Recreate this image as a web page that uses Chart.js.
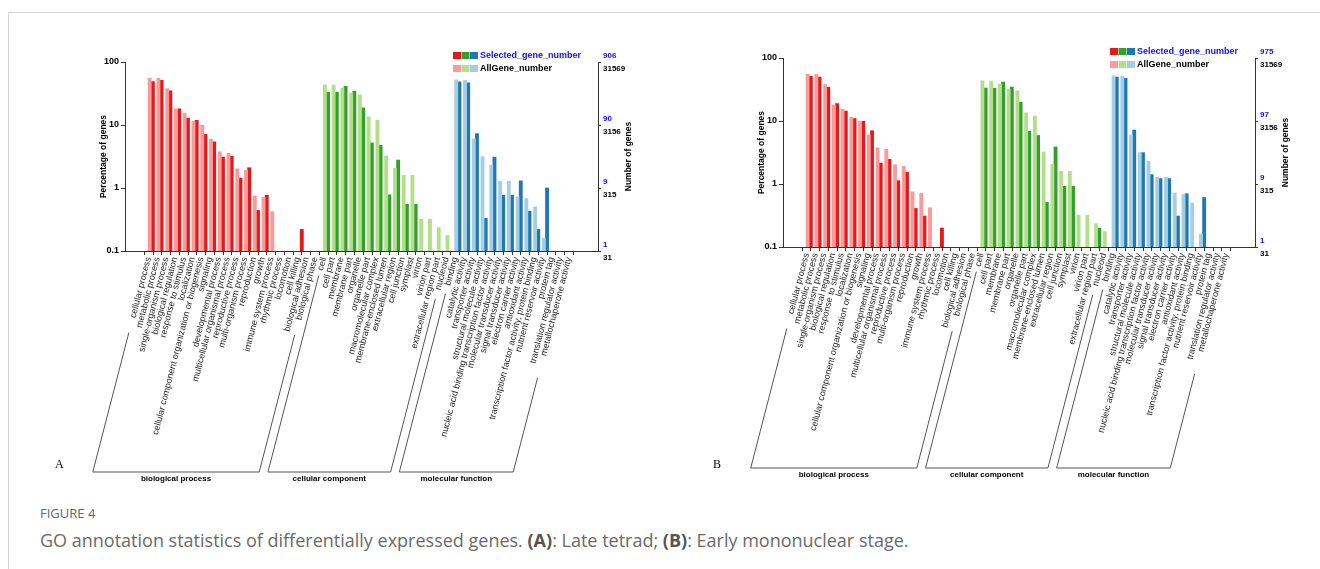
<!DOCTYPE html>
<html>
<head>
<meta charset="utf-8">
<script src="https://cdn.jsdelivr.net/npm/chart.js@4.4.1/dist/chart.umd.min.js"></script>
<style>
    body { margin: 0; width: 1320px; height: 569px; overflow: hidden; background: #fff; position: relative; font-family: 'Open Sans', sans-serif; }
    .frame { position: absolute; left: 8px; top: 12px; width: 1330px; height: 600px; border-top: 1px solid #d4d4d4; border-left: 1px solid #d4d4d4; }
    .panel { position: absolute; top: 0; width: 660px; height: 500px; }
    #figLabel { position: absolute; left: 40px; top: 504px; font-size: 13px; color: #666; }
    #caption { position: absolute; left: 40px; top: 528px; font-size: 18px; color: #6a6a6a; }
    #caption b { color: #555; }
</style>
</head>
<body>
<div class="frame"></div>
<div class="panel" style="left:0"><canvas id="chartA"></canvas></div>
<div class="panel" style="left:660px"><canvas id="chartB"></canvas></div>
<div id="figLabel">FIGURE 4</div>
<div id="caption">GO annotation statistics of differentially expressed genes. <b>(A)</b>: Late tetrad; <b>(B)</b>: Early mononuclear stage.</div>
<script>
    'use strict';

    // GO level-2 terms
    var bpCats = ['cellular process', 'metabolic process', 'single-organism process', 'biological regulation',
        'response to stimulus', 'localization', 'cellular component organization or biogenesis', 'signaling',
        'developmental process', 'multicellular organismal process', 'reproductive process', 'multi-organism process',
        'reproduction', 'growth', 'immune system process', 'rhythmic process', 'locomotion', 'cell killing',
        'biological adhesion', 'biological phase'];
    var ccCats = ['cell', 'cell part', 'membrane', 'membrane part', 'organelle', 'organelle part',
        'macromolecular complex', 'membrane-enclosed lumen', 'extracellular region', 'cell junction', 'symplast',
        'virion', 'virion part', 'extracellular region part', 'nucleoid'];
    var mfCats = ['binding', 'catalytic activity', 'transporter activity', 'structural molecule activity',
        'nucleic acid binding transcription factor activity', 'molecular transducer activity',
        'signal transducer activity', 'electron carrier activity', 'antioxidant activity',
        'transcription factor activity, protein binding', 'nutrient reservoir activity', 'protein tag',
        'translation regulator activity', 'metallochaperone activity'];
    var groupNames = ['biological process', 'cellular component', 'molecular function'];

    // percentage of genes, AllGene_number (same background in both panels)
    var bpAll = [55.5, 55, 38, 18, 15.4, 11.4, 9.9, 6.0, 3.75, 3.55, 2.02, 1.9, 0.75, 0.71, 0.42, 0, 0, 0, 0, 0];
    var ccAll = [43.5, 43, 38.5, 32, 30, 13.5, 12, 3.23, 2.05, 1.59, 1.59, 0.32, 0.32, 0.235, 0.176];
    var mfAll = [52, 51, 6.0, 3.15, 2.3, 1.28, 1.28, 0.72, 0.68, 0.5, 0.16, 0, 0, 0];

    // percentage of genes, Selected_gene_number, panel A (late tetrad)
    var bpSelA = [49, 51, 35, 18, 12.9, 11.9, 7.1, 5.4, 3.1, 3.2, 1.44, 2.1, 0.44, 0.77, 0, 0, 0, 0.22, 0, 0];
    var ccSelA = [33, 33, 41, 34.5, 18.7, 5.2, 4.75, 0.78, 2.78, 0.55, 0.55, 0, 0, 0, 0];
    var mfSelA = [48.5, 46.8, 7.3, 0.33, 3.1, 0.77, 0.77, 1.3, 0.43, 0.22, 1.0, 0, 0, 0];

    // panel B (early mononuclear stage)
    var bpSelB = [51, 50, 34.3, 18.9, 14.4, 10.9, 9.9, 7.0, 2.15, 2.47, 1.13, 1.53, 0.41, 0.31, 0, 0.2, 0, 0, 0, 0];
    var ccSelB = [33.4, 33, 41.6, 34.7, 19.8, 6.9, 5.9, 0.51, 3.87, 0.92, 0.92, 0, 0, 0.2, 0];
    var mfSelB = [50, 47.6, 7.2, 3.15, 1.41, 1.22, 1.22, 0.31, 0.70, 0, 0.61, 0, 0, 0];

    var yTicks = [0.1, 1, 10, 100];
    var rightSelA = ['1', '9', '90', '906'];
    var rightSelB = ['1', '9', '97', '975'];
    var rightAll = ['31', '315', '3156', '31569'];

    var darkColors = ['#e31a1c', '#33a02c', '#1f78b4'];
    var lightColors = ['#fb9a99', '#b2df8a', '#a6cee3'];
    var FONT = "'Liberation Sans', Arial, sans-serif";
    var ROT = 75.5;
    var TICK_SHIFT = -0.3;

    var categories = bpCats.concat(ccCats, mfCats);
    var groupSizes = [bpCats.length, ccCats.length, mfCats.length];

    function groupOf(i) {
        return i < groupSizes[0] ? 0 : (i < groupSizes[0] + groupSizes[1] ? 1 : 2);
    }

    function toPoints(arr) {
        return arr.map(function (v, i) { return { x: i, y: v > 0 ? v : null }; });
    }

    var goExtras = {
        id: 'goExtras',
        afterDraw: function (chart, args, o) {
            var ctx = chart.ctx;
            var area = chart.chartArea;
            var xs = chart.scales.x;
            var y2 = chart.scales.y2;
            ctx.save();

            // right axis: selected (blue) above, all genes (black) below
            ctx.font = 'bold 8px ' + FONT;
            ctx.textAlign = 'left';
            ctx.textBaseline = 'middle';
            yTicks.forEach(function (v, i) {
                var py = y2.getPixelForValue(v);
                ctx.fillStyle = '#1010ff';
                ctx.fillText(o.rightSel[i], area.right + 5, py - 6.5);
                ctx.fillStyle = '#000';
                ctx.fillText(rightAll[i], area.right + 5, py + 6.5);
            });

            // right axis title
            ctx.save();
            ctx.translate(area.right + 31, (area.top + area.bottom) / 2);
            ctx.rotate(-Math.PI / 2);
            ctx.textAlign = 'center';
            ctx.font = 'bold 8.5px ' + FONT;
            ctx.fillStyle = '#000';
            ctx.fillText('Number of genes', 0, 0);
            ctx.restore();

            // legend
            var lx = area.right - 145;
            for (var k = 0; k < 3; k++) {
                ctx.fillStyle = darkColors[k];
                ctx.fillRect(lx + k * 8.5, area.top - 10, 8, 7);
                ctx.fillStyle = lightColors[k];
                ctx.fillRect(lx + k * 8.5, area.top + 3, 8, 7);
            }
            ctx.font = 'bold 9px ' + FONT;
            ctx.fillStyle = '#1010ff';
            ctx.fillText('Selected_gene_number', lx + 27, area.top - 6.5);
            ctx.fillStyle = '#000';
            ctx.fillText('AllGene_number', lx + 27, area.top + 6.5);

            // group brackets along the label direction
            var ang = ROT * Math.PI / 180;
            var y0 = area.bottom + 5;
            var yb = area.bottom + 221;
            ctx.font = '9px ' + FONT;
            function slant(i) {
                var px = xs.getPixelForValue(i + TICK_SHIFT);
                var len = ctx.measureText(categories[i]).width * 1.2 + 4;
                return {
                    tx: px - len * Math.cos(ang), ty: y0 + len * Math.sin(ang),
                    bx: px - (yb - y0) / Math.tan(ang)
                };
            }
            var start = 0;
            ctx.strokeStyle = '#555';
            ctx.lineWidth = 1;
            groupSizes.forEach(function (n, g) {
                var a = slant(start);
                var b = slant(start + n - 1);
                ctx.beginPath();
                ctx.moveTo(a.tx, a.ty);
                ctx.lineTo(a.bx, yb);
                ctx.lineTo(b.bx, yb);
                ctx.lineTo(b.tx, b.ty);
                ctx.stroke();
                ctx.save();
                ctx.font = 'bold 8px ' + FONT;
                ctx.fillStyle = '#000';
                ctx.textAlign = 'center';
                ctx.fillText(groupNames[g], (a.bx + b.bx) / 2, yb + 7);
                ctx.restore();
                start += n;
            });

            // panel letter
            ctx.font = '12px "Liberation Serif", serif';
            ctx.fillStyle = '#000';
            ctx.textAlign = 'left';
            ctx.fillText(o.letter, area.left - 70, 465);
            ctx.restore();
        }
    };

    function makeChart(id, selArrays, rightSel, letter, pad) {
        var sel = selArrays[0].concat(selArrays[1], selArrays[2]);
        var all = bpAll.concat(ccAll, mfAll);
        var lightCols = categories.map(function (_, i) { return lightColors[groupOf(i)]; });
        var darkCols = categories.map(function (_, i) { return darkColors[groupOf(i)]; });

        return new Chart(document.getElementById(id), {
            type: 'bar',
            data: {
                datasets: [{
                    label: 'AllGene_number',
                    data: toPoints(all),
                    backgroundColor: lightCols,
                    barThickness: 3.2
                }, {
                    label: 'Selected_gene_number',
                    data: toPoints(sel),
                    backgroundColor: darkCols,
                    barThickness: 3.2
                }]
            },
            options: {
                responsive: true,
                maintainAspectRatio: false,
                animation: false,
                events: [],
                layout: { padding: pad },
                plugins: {
                    legend: { display: false },
                    tooltip: { enabled: false },
                    goExtras: { letter: letter, rightSel: rightSel }
                },
                scales: {
                    x: {
                        type: 'linear',
                        min: -2.45,
                        max: 50.45,
                        afterBuildTicks: function (s) {
                            s.ticks = categories.map(function (_, i) { return { value: i + TICK_SHIFT }; });
                        },
                        afterFit: function (s) { s.height = 220; },
                        grid: { display: true, drawOnChartArea: false, drawTicks: true, tickLength: 4, color: '#333' },
                        border: { display: true, color: '#333' },
                        ticks: {
                            autoSkip: false,
                            minRotation: ROT,
                            maxRotation: ROT,
                            padding: 1,
                            color: '#222',
                            font: { family: FONT, size: 9 },
                            callback: function (v) { return categories[Math.round(v - TICK_SHIFT)]; }
                        }
                    },
                    y: {
                        type: 'logarithmic',
                        position: 'left',
                        min: 0.1,
                        max: 100,
                        afterBuildTicks: function (s) {
                            s.ticks = yTicks.map(function (v) { return { value: v }; });
                        },
                        afterFit: function (s) { s.width = 30; },
                        grid: { display: true, drawOnChartArea: false, tickLength: 4, color: '#333' },
                        border: { display: true, color: '#333' },
                        ticks: {
                            color: '#000',
                            padding: 2,
                            font: { family: FONT, size: 9, weight: 'bold' },
                            callback: function (v) { return String(v); }
                        },
                        title: {
                            display: true,
                            text: 'Percentage of genes',
                            color: '#000',
                            padding: { top: 4, bottom: 0 },
                            font: { family: FONT, size: 8.5, weight: 'bold' }
                        }
                    },
                    y2: {
                        type: 'logarithmic',
                        position: 'right',
                        min: 0.1,
                        max: 100,
                        afterBuildTicks: function (s) {
                            s.ticks = yTicks.map(function (v) { return { value: v }; });
                        },
                        afterFit: function (s) { s.width = 40; },
                        grid: { display: true, drawOnChartArea: false, tickLength: 3, color: '#333' },
                        border: { display: true, color: '#333' },
                        ticks: { display: false }
                    }
                }
            },
            plugins: [goExtras]
        });
    }

    makeChart('chartA', [bpSelA, ccSelA, mfSelA], rightSelA, 'A', { left: 95, right: 22, top: 62, bottom: 29 });
    makeChart('chartB', [bpSelB, ccSelB, mfSelB], rightSelB, 'B', { left: 93, right: 25, top: 58, bottom: 33 });
</script>
</body>
</html>
